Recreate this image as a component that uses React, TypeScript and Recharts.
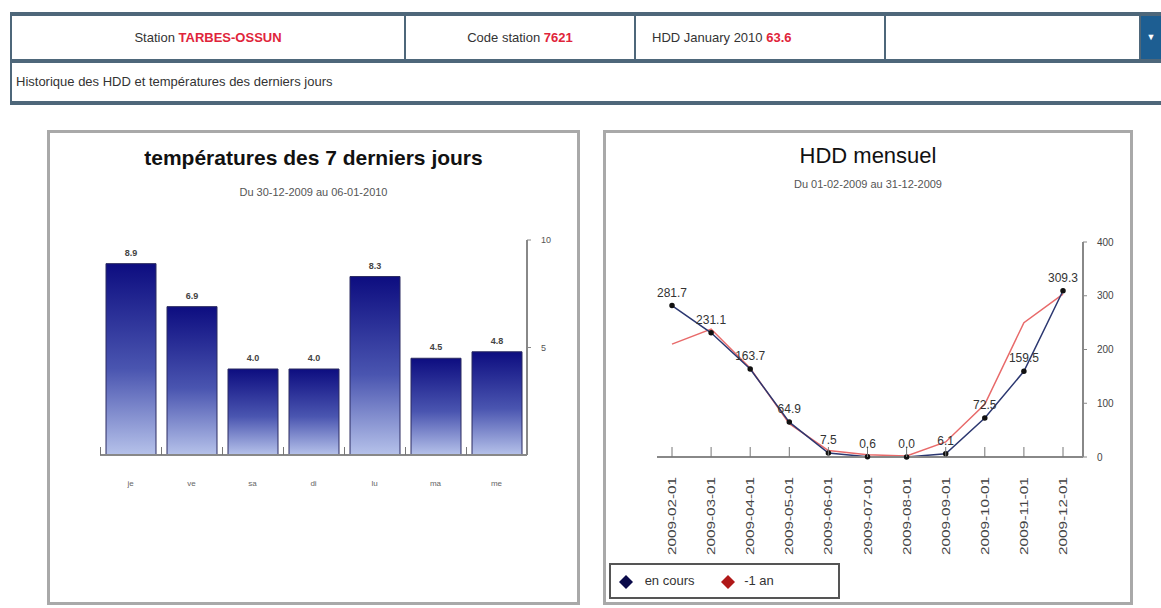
import { BarChart, Bar, LineChart, Line, XAxis, YAxis, LabelList } from "recharts"

const dayLabels = ["je", "ve", "sa", "di", "lu", "ma", "me"]
const dayTemps = [8.9, 6.9, 4.0, 4.0, 8.3, 4.5, 4.8]

const months = [
  "2009-02-01", "2009-03-01", "2009-04-01", "2009-05-01", "2009-06-01", "2009-07-01",
  "2009-08-01", "2009-09-01", "2009-10-01", "2009-11-01", "2009-12-01",
]
const hddCurrent = [281.7, 231.1, 163.7, 64.9, 7.5, 0.6, 0.0, 6.1, 72.5, 159.5, 309.3]
const hddLastYear = [210, 238, 165, 62, 12, 4, 2, 28, 98, 250, 303]

const tempTicks = [5, 10]
const hddTicks = [0, 100, 200, 300, 400]

const tempData = dayLabels.map((day, i) => ({ day, temp: dayTemps[i] }))
const hddData = months.map((month, i) => ({ month, current: hddCurrent[i], lastYear: hddLastYear[i] }))

const FONT = "'Liberation Sans', Arial, sans-serif"
const BORDER = "#4e677a"

function DayTick({ x, y, payload }: any) {
  return (
    <g>
      <line x1={x - 30} y1={y - 8} x2={x - 30} y2={y} stroke="#777" />
      <text x={x} y={y + 31} textAnchor="middle" fontSize={8} fill="#666" fontFamily={FONT}>
        {payload.value}
      </text>
    </g>
  )
}

function MonthTick({ x, y, payload }: any) {
  const ty = y + 20
  return (
    <g>
      <line x1={x} y1={y - 10} x2={x} y2={y} stroke="#777" />
      <text
        x={x}
        y={ty}
        dy={4}
        transform={`rotate(-90 ${x} ${ty})`}
        textAnchor="end"
        fontSize={10}
        fill="#444"
        fontFamily={FONT}
        textLength={78}
        lengthAdjust="spacingAndGlyphs"
      >
        {payload.value}
      </text>
    </g>
  )
}

function Diamond({ color }: { color: string }) {
  return (
    <svg width={14} height={14} style={{ verticalAlign: "middle" }}>
      <polygon points="7,0 14,7 7,14 0,7" fill={color} />
    </svg>
  )
}

function Header() {
  const line = (top: number) => (
    <div style={{ position: "absolute", left: 10, top, width: 1151, height: 4, background: BORDER }} />
  )
  const sep = (left: number) => (
    <div style={{ position: "absolute", left, top: 16, width: 2, height: 43, background: BORDER }} />
  )
  const cell = (left: number, width: number, label: string, value: string, align = "center") => (
    <div
      style={{
        position: "absolute", left, top: 16, width, height: 43, lineHeight: "43px",
        textAlign: align as any, fontSize: 13, color: "#333", paddingLeft: align === "left" ? 16 : 0,
        boxSizing: "border-box",
      }}
    >
      {label} <span style={{ color: "#e0243a", fontWeight: "bold" }}>{value}</span>
    </div>
  )
  return (
    <>
      {line(12)}
      {line(59)}
      {line(101)}
      <div style={{ position: "absolute", left: 10, top: 12, width: 2, height: 93, background: BORDER }} />
      {cell(12, 392, "Station", "TARBES-OSSUN")}
      {sep(404)}
      {cell(406, 228, "Code station", "7621")}
      {sep(634)}
      {cell(636, 248, "HDD January 2010", "63.6", "left")}
      {sep(884)}
      {sep(1139)}
      <div
        style={{
          position: "absolute", left: 1141, top: 16, width: 20, height: 43, background: "#1d5e92",
          color: "#fff", fontSize: 9, textAlign: "center", lineHeight: "43px",
        }}
      >
        ▼
      </div>
      <div style={{ position: "absolute", left: 16, top: 63, height: 38, lineHeight: "38px", fontSize: 13, color: "#333" }}>
        Historique des HDD et températures des derniers jours
      </div>
    </>
  )
}

export default function App() {
  return (
    <div style={{ position: "absolute", left: 0, top: 0, width: 1161, height: 608, background: "#fff", fontFamily: FONT, overflow: "hidden" }}>
      <Header />

      <div style={{ position: "absolute", left: 47, top: 130, width: 533, height: 475, border: "3px solid #a9a9a9", boxSizing: "border-box" }}>
        <div style={{ position: "absolute", left: 0, top: 13, width: "100%", textAlign: "center", fontSize: 21, fontWeight: "bold", color: "#111" }}>
          températures des 7 derniers jours
        </div>
        <div style={{ position: "absolute", left: 0, top: 53, width: "100%", textAlign: "center", fontSize: 11, color: "#555" }}>
          Du 30-12-2009 au 06-01-2010
        </div>
        <div style={{ position: "absolute", left: -3, top: -3 }}>
          <BarChart width={533} height={475} data={tempData} margin={{ top: 110, right: 23, left: 53, bottom: 120 }} barCategoryGap={5}>
            <defs>
              <linearGradient id="barFill" x1="0" y1="0" x2="0" y2="1">
                <stop offset="0%" stopColor="#0d0d80" />
                <stop offset="55%" stopColor="#4a55b0" />
                <stop offset="100%" stopColor="#b6c2ea" />
              </linearGradient>
            </defs>
            <XAxis dataKey="day" tickLine={false} tickSize={0} tickMargin={0} interval={0} height={30} axisLine={{ stroke: "#888", strokeWidth: 2 }} tick={(p: any) => <DayTick {...p} />} />
            <YAxis orientation="right" domain={[0, 10]} ticks={tempTicks} width={30} axisLine={{ stroke: "#888", strokeWidth: 2 }} tickLine={{ stroke: "#888" }} tickSize={4} tickMargin={10} tick={{ fontSize: 9, fill: "#555" }} />
            <Bar dataKey="temp" fill="url(#barFill)" stroke="#2a2a60" strokeWidth={1} barSize={50} isAnimationActive={false}>
              <LabelList dataKey="temp" position="top" offset={8} formatter={(v: any) => Number(v).toFixed(1)} style={{ fontSize: 9, fill: "#444", fontWeight: "bold" }} />
            </Bar>
          </BarChart>
        </div>
      </div>

      <div style={{ position: "absolute", left: 603, top: 130, width: 530, height: 475, border: "3px solid #a9a9a9", boxSizing: "border-box" }}>
        <div style={{ position: "absolute", left: 0, top: 10, width: "100%", textAlign: "center", fontSize: 22, color: "#111" }}>
          HDD mensuel
        </div>
        <div style={{ position: "absolute", left: 0, top: 45, width: "100%", textAlign: "center", fontSize: 11, color: "#555" }}>
          Du 01-02-2009 au 31-12-2009
        </div>
        <div style={{ position: "absolute", left: -3, top: -3 }}>
          <LineChart width={530} height={475} data={hddData} margin={{ top: 112, right: 10, left: 54, bottom: 58 }}>
            <XAxis dataKey="month" interval={0} height={90} tickLine={false} tickSize={0} tickMargin={0} padding={{ left: 15, right: 20 }} axisLine={{ stroke: "#888", strokeWidth: 2 }} tick={(p: any) => <MonthTick {...p} />} />
            <YAxis orientation="right" domain={[0, 400]} ticks={hddTicks} width={40} axisLine={{ stroke: "#888", strokeWidth: 2 }} tickLine={{ stroke: "#888" }} tickSize={4} tickMargin={10} tick={{ fontSize: 10, fill: "#444" }} />
            <Line type="linear" dataKey="lastYear" stroke="#e86a6a" strokeWidth={1.5} dot={false} isAnimationActive={false} />
            <Line type="linear" dataKey="current" stroke="#2b3770" strokeWidth={1.5} dot={{ r: 2, fill: "#111", stroke: "#111" }} isAnimationActive={false}>
              <LabelList dataKey="current" position="top" offset={9} formatter={(v: any) => Number(v).toFixed(1)} style={{ fontSize: 12, fill: "#333" }} />
            </Line>
          </LineChart>
        </div>
        <div
          style={{
            position: "absolute", left: 3, top: 430, width: 231, height: 36, border: "2px solid #555",
            boxSizing: "border-box", background: "#fff", fontSize: 13, color: "#333", lineHeight: "32px", paddingLeft: 8,
          }}
        >
          <Diamond color="#0a0a4a" /> <span style={{ marginLeft: 8 }}>en cours</span>
          <span style={{ marginLeft: 26 }}><Diamond color="#b01818" /></span> <span style={{ marginLeft: 6 }}>-1 an</span>
        </div>
      </div>
    </div>
  )
}
